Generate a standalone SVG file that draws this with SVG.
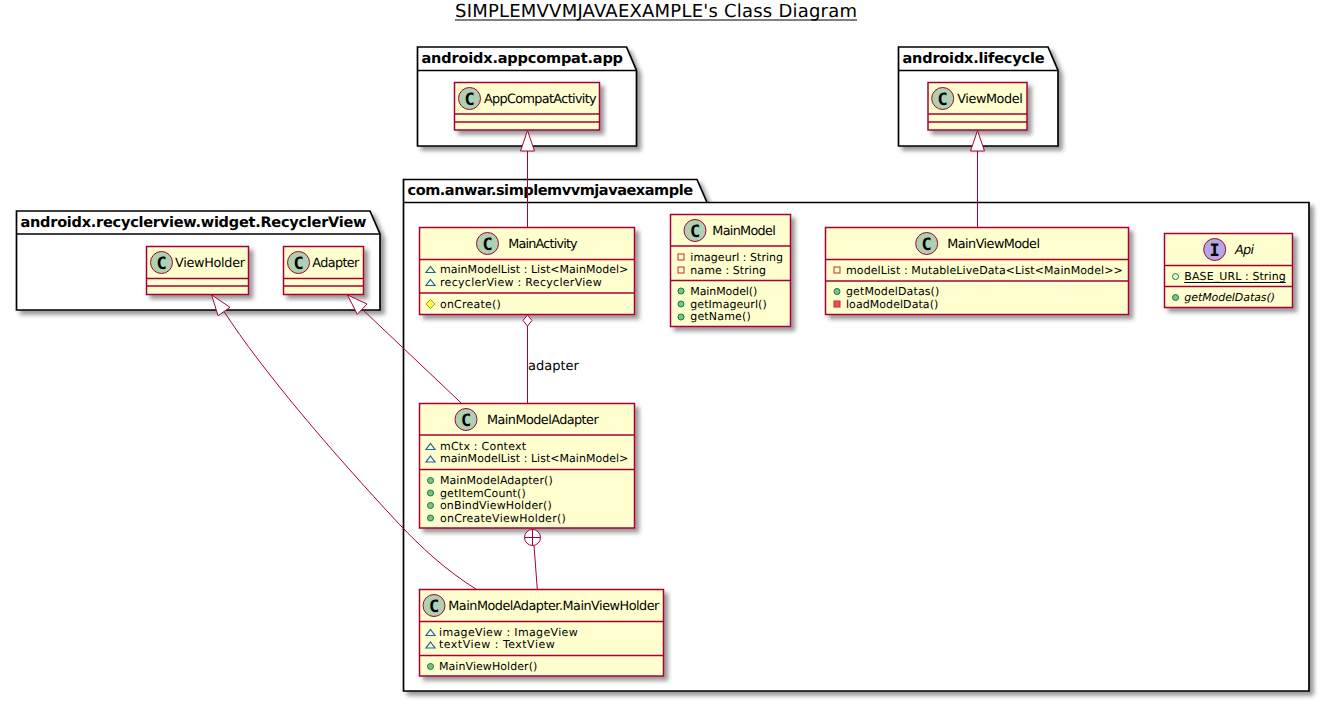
<svg xmlns="http://www.w3.org/2000/svg" width="1324" height="726" viewBox="0 0 1324 726">
<style>
text{font-family:"DejaVu Sans",sans-serif;fill:#000;text-rendering:geometricPrecision}
.t{font-size:18px}
.p{font-size:14.500px;font-weight:bold}
.n{font-size:12.800px}
.m{font-size:11px}
.i{font-style:italic}
.c{font-family:"DejaVu Sans Mono",monospace;font-size:17px;font-weight:bold;text-anchor:middle}
.l{font-size:13px}
.pk{fill:#fff;stroke:#000;stroke-width:1.700}
.pl{fill:none;stroke:#000;stroke-width:1.700}
.b{fill:#FEFECE;stroke:#A80036;stroke-width:1.500}
.s{stroke:#A80036;stroke-width:1.500;fill:none}
.ic{fill:#ADD1B2;stroke:#A80036;stroke-width:1}
.ii{fill:#B4A7E5;stroke:#A80036;stroke-width:1}
.e{fill:none;stroke:#A80036;stroke-width:1}
.h{fill:#fff;stroke:#A80036;stroke-width:1}
.v1{fill:none;stroke:#1963A0;stroke-width:1.200}
.v2{fill:#FFFF44;stroke:#B38D22;stroke-width:1}
.v3{fill:#84BE84;stroke:#038048;stroke-width:1}
.v4{fill:none;stroke:#038048;stroke-width:1}
.v5{fill:#F24D5C;stroke:#C82930;stroke-width:1}
.v6{fill:none;stroke:#C82930;stroke-width:1}
</style>
<defs>
<filter id="sh" x="-10%" y="-10%" width="120%" height="125%"><feDropShadow dx="4" dy="4" stdDeviation="2" flood-color="#000" flood-opacity="0.4"/></filter>
</defs>
<rect width="1324" height="726" fill="#fff"/>
<text class="t" x="455" y="17" textLength="402">SIMPLEMVVMJAVAEXAMPLE's Class Diagram</text>
<path d="M455 20H857" stroke="#000" stroke-width="1" fill="none"/>

<g id="pkg-appcompat">
<path class="pk" filter="url(#sh)" d="M417.500 47H626.500L636.500 70.500V146H417.500Z"/>
<path class="pl" d="M417.500 70.500H636.500"/>
<text class="p" x="421.500" y="63" textLength="201.500">androidx.appcompat.app</text>
</g>
<g id="pkg-lifecycle">
<path class="pk" filter="url(#sh)" d="M898.500 47H1048L1058 70.500V146H898.500Z"/>
<path class="pl" d="M898.500 70.500H1058"/>
<text class="p" x="902.500" y="63" textLength="142">androidx.lifecycle</text>
</g>
<g id="pkg-recyclerview">
<path class="pk" filter="url(#sh)" d="M16.500 211H370L380 234V310H16.500Z"/>
<path class="pl" d="M16.500 234H380"/>
<text class="p" x="20.500" y="226.500" textLength="346">androidx.recyclerview.widget.RecyclerView</text>
</g>
<g id="pkg-simplemvvm">
<path class="pk" filter="url(#sh)" d="M403.500 179.500H697L707 202.500H1309V691H403.500Z"/>
<path class="pl" d="M403.500 202.500H707"/>
<text class="p" x="407.500" y="195" textLength="285.500">com.anwar.simplemvvmjavaexample</text>
</g>

<g id="class-AppCompatActivity">
<rect class="b" filter="url(#sh)" x="454.500" y="82.500" width="145" height="47.500"/>
<path class="s" d="M454.500 114H599.500M454.500 122H599.500"/>
<circle class="ic" cx="469.500" cy="98.500" r="11"/><text class="c" x="469.500" y="104.500">C</text>
<text class="n" x="484" y="103" textLength="112.700">AppCompatActivity</text>
</g>
<g id="class-ViewModel">
<rect class="b" filter="url(#sh)" x="928" y="82.500" width="99" height="47.500"/>
<path class="s" d="M928 114H1027M928 122H1027"/>
<circle class="ic" cx="942.700" cy="98.500" r="11"/><text class="c" x="942.700" y="104.500">C</text>
<text class="n" x="957.300" y="103" textLength="65.400">ViewModel</text>
</g>
<g id="class-ViewHolder">
<rect class="b" filter="url(#sh)" x="146.500" y="246.500" width="102" height="48"/>
<path class="s" d="M146.500 278.500H248.500M146.500 286H248.500"/>
<circle class="ic" cx="161.500" cy="262.500" r="11"/><text class="c" x="161.500" y="268.500">C</text>
<text class="n" x="175" y="267" textLength="70">ViewHolder</text>
</g>
<g id="class-Adapter">
<rect class="b" filter="url(#sh)" x="283.500" y="246.500" width="80" height="48"/>
<path class="s" d="M283.500 278.500H363.500M283.500 286H363.500"/>
<circle class="ic" cx="298.500" cy="262.500" r="11"/><text class="c" x="298.500" y="268.500">C</text>
<text class="n" x="312.300" y="267" textLength="47">Adapter</text>
</g>

<g id="class-MainActivity">
<rect class="b" filter="url(#sh)" x="419.500" y="227.500" width="215" height="87"/>
<path class="s" d="M419.500 259.500H634.500M419.500 293H634.500"/>
<circle class="ic" cx="487.500" cy="243.500" r="11"/><text class="c" x="487.500" y="249.500">C</text>
<text class="n" x="508.300" y="248" textLength="69.400">MainActivity</text>
<path class="v1" d="M430.500 266.500L435 272.500H426Z"/>
<text class="m" x="440" y="273" textLength="188.300">mainModelList : List&lt;MainModel&gt;</text>
<path class="v1" d="M430.500 279.500L435 285.500H426Z"/>
<text class="m" x="440" y="286" textLength="161.700">recyclerView : RecyclerView</text>
<path class="v2" d="M430.500 299.500L435 304L430.500 308.500L426 304Z"/>
<text class="m" x="440" y="307.500" textLength="60.700">onCreate()</text>
</g>
<g id="class-MainModel">
<rect class="b" filter="url(#sh)" x="670.500" y="214.500" width="120" height="112"/>
<path class="s" d="M670.500 246H790.500M670.500 280.500H790.500"/>
<circle class="ic" cx="695" cy="230.500" r="11"/><text class="c" x="695" y="236.500">C</text>
<text class="n" x="712.300" y="235" textLength="63.400">MainModel</text>
<rect class="v6" x="678" y="254" width="6" height="6"/>
<text class="m" x="690.300" y="261" textLength="92.700">imageurl : String</text>
<rect class="v6" x="678" y="267" width="6" height="6"/>
<text class="m" x="690.300" y="274" textLength="75.700">name : String</text>
<circle class="v3" cx="681" cy="291" r="3"/>
<text class="m" x="690.300" y="294.700" textLength="67">MainModel()</text>
<circle class="v3" cx="681" cy="304" r="3"/>
<text class="m" x="690.300" y="307.500" textLength="76.400">getImageurl()</text>
<circle class="v3" cx="681" cy="317" r="3"/>
<text class="m" x="690.300" y="320" textLength="60.400">getName()</text>
</g>
<g id="class-MainViewModel">
<rect class="b" filter="url(#sh)" x="825.500" y="227.500" width="303" height="87"/>
<path class="s" d="M825.500 259.500H1128.500M825.500 281H1128.500"/>
<circle class="ic" cx="926.700" cy="243.500" r="11"/><text class="c" x="926.700" y="249.500">C</text>
<text class="n" x="947.300" y="248" textLength="92.700">MainViewModel</text>
<rect class="v6" x="834" y="267" width="6" height="6"/>
<text class="m" x="846" y="274" textLength="276.700">modelList : MutableLiveData&lt;List&lt;MainModel&gt;&gt;</text>
<circle class="v3" cx="837" cy="291.500" r="3"/>
<text class="m" x="846" y="295" textLength="93.300">getModelDatas()</text>
<rect class="v5" x="834" y="301" width="6" height="6"/>
<text class="m" x="846" y="307.700" textLength="92.300">loadModelData()</text>
</g>
<g id="class-Api">
<rect class="b" filter="url(#sh)" x="1164.500" y="233.500" width="128" height="74"/>
<path class="s" d="M1164.500 265.500H1292.500M1164.500 286.500H1292.500"/>
<circle class="ii" cx="1214.700" cy="249.500" r="11"/><text class="c" x="1214.700" y="255.500">I</text>
<text class="n i" x="1235" y="254" textLength="19">Api</text>
<circle class="v4" cx="1175.500" cy="276.500" r="3"/>
<text class="m" x="1184.300" y="280" textLength="101.400">BASE_URL : String</text>
<path d="M1184.300 282.500H1285.700" stroke="#000" stroke-width="1" fill="none"/>
<circle class="v3" cx="1175.500" cy="297.500" r="3"/>
<text class="m i" x="1184.300" y="301" textLength="90.700">getModelDatas()</text>
</g>
<g id="class-MainModelAdapter">
<rect class="b" filter="url(#sh)" x="419.500" y="403.500" width="215" height="124.500"/>
<path class="s" d="M419.500 435H634.500M419.500 469.500H634.500"/>
<circle class="ic" cx="466" cy="419.500" r="11"/><text class="c" x="466" y="425.500">C</text>
<text class="n" x="487" y="424.300" textLength="111.700">MainModelAdapter</text>
<path class="v1" d="M430.500 443.500L435 449.500H426Z"/>
<text class="m" x="440" y="450" textLength="86">mCtx : Context</text>
<path class="v1" d="M430.500 456L435 462H426Z"/>
<text class="m" x="440" y="462.300" textLength="188.300">mainModelList : List&lt;MainModel&gt;</text>
<circle class="v3" cx="430.500" cy="480.500" r="3"/>
<text class="m" x="440" y="484.300" textLength="112.700">MainModelAdapter()</text>
<circle class="v3" cx="430.500" cy="493" r="3"/>
<text class="m" x="440" y="496.700" textLength="85.700">getItemCount()</text>
<circle class="v3" cx="430.500" cy="505.500" r="3"/>
<text class="m" x="440" y="509" textLength="111.700">onBindViewHolder()</text>
<circle class="v3" cx="430.500" cy="518" r="3"/>
<text class="m" x="440" y="521.700" textLength="125.700">onCreateViewHolder()</text>
</g>
<g id="class-MainViewHolder">
<rect class="b" filter="url(#sh)" x="419.500" y="589.500" width="244" height="86.500"/>
<path class="s" d="M419.500 621.500H663.500M419.500 655.500H663.500"/>
<circle class="ic" cx="434" cy="605.500" r="11"/><text class="c" x="434" y="611.500">C</text>
<text class="n" x="448.300" y="610" textLength="211">MainModelAdapter.MainViewHolder</text>
<path class="v1" d="M430.500 629.500L435 635.500H426Z"/>
<text class="m" x="439" y="635.700" textLength="138.700">imageView : ImageView</text>
<path class="v1" d="M430.500 642L435 648H426Z"/>
<text class="m" x="439" y="648.300" textLength="115.700">textView : TextView</text>
<circle class="v3" cx="430.500" cy="666.500" r="3"/>
<text class="m" x="439" y="670" textLength="98.300">MainViewHolder()</text>
</g>

<g id="connectors">
<path class="e" d="M527.500 151V227.500"/><path class="h" d="M527.500 130.500L534.500 151H520.500Z"/>
<path class="e" d="M977.500 151V227.500"/><path class="h" d="M977.500 130.500L984.500 151H970.500Z"/>
<path class="e" d="M527.500 326V403.500"/><path class="h" d="M527.500 315L532 320.500L527.500 326L523 320.500Z"/>
<text class="l" x="528" y="370">adapter</text>
<path class="e" d="M362 309L461.700 403.500"/><path class="h" d="M347.500 295L367 304L357.300 314.300Z"/>
<path class="e" d="M224 311.500C262 370 330 450 400 525C420 546 445 570 476.700 589.500"/><path class="h" d="M211.700 295L230 307.300L218 315.700Z"/>
<path class="e" d="M534 545.500L537.300 589.500"/>
<circle class="h" cx="532.500" cy="537.500" r="8"/><path class="e" d="M524.500 537.500H540.500M532.500 529.500V545.500"/>
</g>
</svg>
